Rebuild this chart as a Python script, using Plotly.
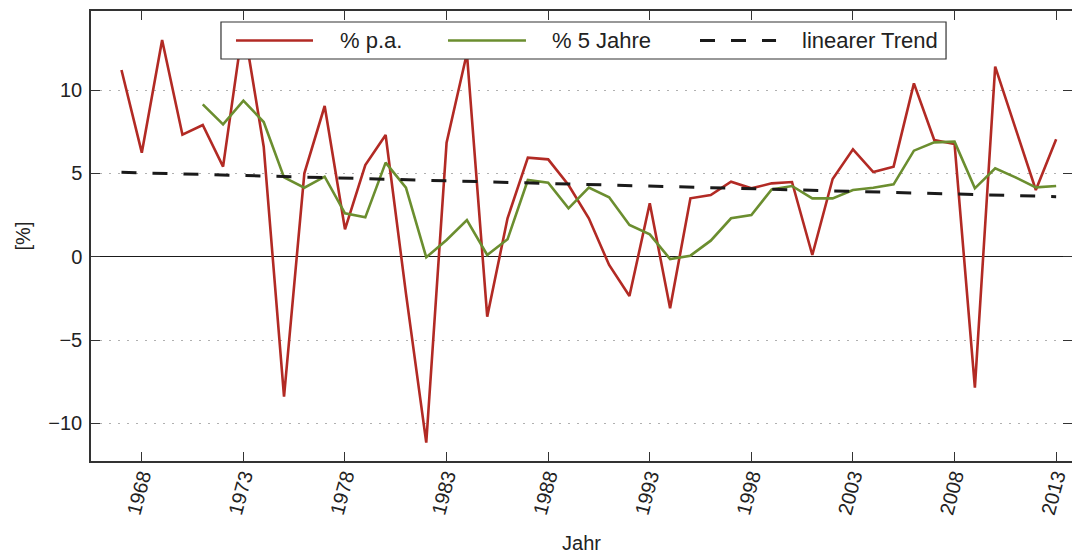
import plotly.graph_objects as go

# Jahreswerte (% p.a.), 1967-2013
years_pa = list(range(1967, 2014))
pct_pa = [11.2, 6.24, 13.0, 7.32, 7.9, 5.4, 14.0, 6.6, -8.4, 5.0,
          9.04, 1.64, 5.5, 7.3, -2.2, -11.16, 6.84, 12.2, -3.6, 2.3,
          5.94, 5.84, 4.3, 2.3, -0.5, -2.36, 3.2, -3.1, 3.5, 3.7,
          4.5, 4.1, 4.4, 4.48, 0.1, 4.66, 6.44, 5.08, 5.4, 10.4,
          7.0, 6.76, -7.86, 11.4, 7.7, 4.0, 7.04]

# gleitender 5-Jahres-Wert, 1971-2013
years_5j = list(range(1971, 2014))
pct_5j = [9.14, 7.94, 9.36, 8.08, 4.76, 4.14, 4.8, 2.6, 2.36, 5.64,
          4.14, -0.04, 1.0, 2.2, 0.1, 1.04, 4.6, 4.44, 2.9, 4.14,
          3.56, 1.9, 1.34, -0.14, 0.06, 0.96, 2.3, 2.5, 4.04, 4.24,
          3.5, 3.5, 4.0, 4.14, 4.34, 6.36, 6.86, 6.9, 4.1, 5.3,
          4.76, 4.16, 4.24]

# linearer Trend (Endpunkte)
years_trend = [1967, 2013]
pct_trend = [5.06, 3.6]

x_ticks = [1968, 1973, 1978, 1983, 1988, 1993, 1998, 2003, 2008, 2013]
y_ticks = [-10, -5, 0, 5, 10]
y_ticktext = ["\u221210", "\u22125", "0", "5", "10"]

RED = "#b22a24"
GREEN = "#6b8e2f"
BLACK = "#1a1a1a"
AXIS = "#333333"
FONT = "Liberation Sans, Arial, sans-serif"

fig = go.Figure()

fig.add_trace(go.Scatter(x=years_pa, y=pct_pa, mode="lines", name="% p.a.",
                         line=dict(color=RED, width=2.6), showlegend=False))
fig.add_trace(go.Scatter(x=years_5j, y=pct_5j, mode="lines", name="% 5 Jahre",
                         line=dict(color=GREEN, width=2.6), showlegend=False))
fig.add_trace(go.Scatter(x=years_trend, y=pct_trend, mode="lines", name="linearer Trend",
                         line=dict(color=BLACK, width=3, dash="15px,16px"),
                         showlegend=False))

# Legende von Hand (Rahmen, Linienmuster, Text)
fig.add_shape(type="rect", xref="paper", yref="paper",
              x0=0.1325, x1=0.8716, y0=0.8933, y1=0.9756,
              line=dict(color=AXIS, width=1.2), fillcolor="white", layer="above")
legend_items = [
    ("% p.a.", RED, "solid", 0.1478, 0.2263, 0.2518),
    ("% 5 Jahre", GREEN, "solid", 0.3639, 0.4434, 0.4679),
    ("linearer Trend", BLACK, "15px,16px", 0.6208, 0.6983, 0.7228),
]
for label, color, dash, lx0, lx1, tx in legend_items:
    fig.add_shape(type="line", xref="paper", yref="paper",
                  x0=lx0, x1=lx1, y0=0.9344, y1=0.9344, layer="above",
                  line=dict(color=color, width=3 if color == BLACK else 2.6, dash=dash))
    fig.add_annotation(xref="paper", yref="paper", x=tx, y=0.9344,
                       text=label, showarrow=False, xanchor="left", yanchor="middle",
                       font=dict(size=22, color="#222222", family=FONT))

fig.update_layout(
    width=1072, height=554,
    margin=dict(l=91, r=0, t=11, b=93),
    paper_bgcolor="white", plot_bgcolor="white",
    font=dict(family=FONT, size=20, color="#222222"),
    showlegend=False,
)

fig.update_xaxes(
    range=[1965.5, 2013.78], automargin=False,
    tickmode="array", tickvals=x_ticks, tickangle=-75,
    ticks="inside", ticklen=9, tickwidth=1.3, tickcolor=AXIS,
    ticklabelshift=0, ticklabelstandoff=-6,
    showline=True, linecolor=AXIS, linewidth=1.5, mirror="ticks",
    showgrid=False, zeroline=False,
    tickfont=dict(size=20),
    title=dict(text="Jahr", font=dict(size=20), standoff=23),
)

fig.update_yaxes(
    range=[-12.26, 14.74], automargin=False,
    tickmode="array", tickvals=y_ticks, ticktext=y_ticktext,
    ticks="inside", ticklen=9, tickwidth=1.3, tickcolor=AXIS,
    ticklabelstandoff=3,
    showline=True, linecolor=AXIS, linewidth=1.5, mirror="ticks",
    showgrid=True, gridcolor="#b0b0b0", griddash="2px,7px", gridwidth=1,
    zeroline=True, zerolinecolor=BLACK, zerolinewidth=1.3,
    tickfont=dict(size=20),
    title=dict(text="[%]", font=dict(size=20), standoff=12),
)

# Seitenrand des Browsers entfernen, damit die Figur bei (0, 0) beginnt
fig.write_html("out.html", config={"displayModeBar": False},
               post_script="document.body.style.margin='0';")
